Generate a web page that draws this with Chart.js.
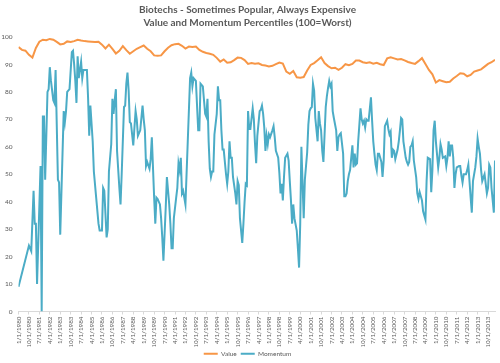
<!DOCTYPE html>
<html>
<head>
<meta charset="utf-8">
<script src="https://cdn.jsdelivr.net/npm/chart.js@4.4.1/dist/chart.umd.min.js"></script>
<style>
html, body { margin: 0; padding: 0; background: #fff; }
#wrap { width: 500px; height: 363px; }
</style>
</head>
<body>
<div id="wrap"><canvas id="chart" width="500" height="363"></canvas></div>
<script>
var titleLines = ['Biotechs - Sometimes Popular, Always Expensive', 'Value and Momentum Percentiles (100=Worst)'];

// x positions are months counted from 1/1/1980
var valueMonths = [];
for (var q = 0; q <= 411; q += 3) valueMonths.push(q);
var valueData = [96.3,95.3,95,93.5,92.5,96,98.3,99,98.8,99.3,99,98.2,97.3,97.5,98.4,98.2,98.5,99,98.7,98.5,
  98.4,98.3,98.2,98.3,97.2,95.8,97.2,95.7,94,95,96.7,95.2,93.9,94.8,95.7,96.3,96.9,95.7,94.8,93.3,
  93.2,93.3,94.8,96.1,97,97.4,97.5,96.8,95.8,96.5,96.4,96.5,95.3,94.6,94.2,93.9,93.5,92.4,91,91.8,
  90.6,90.8,91.6,92.5,92.4,91.6,90.2,90.5,90.3,90.4,89.8,89.6,89.3,89.5,90.1,90.7,90.3,87.4,86.6,87.6,
  85.3,85.2,85.4,87.8,89.8,90.5,91.5,92.6,90.5,89.4,88.6,88.8,88,88.8,90.1,89.7,90.2,91.4,91.4,90.8,
  90.5,90.8,90.3,90.6,90.1,89.8,92.2,92.6,92.2,91.8,92,91.5,90.9,90.5,90.2,91.2,92.3,90.2,88,86.4,
  83.4,84.3,83.9,83.5,83.7,84.9,85.8,86.8,86.6,85.7,86.2,87.4,87.8,88.2,89.2,90.2,90.8,91.7];

var momentumMonths = [0,9,11,13,14,15,16,19,20,21,22,23,25,26,27,28,30,31,32,34,35,36,39,40,41,42,44,46,47,48,
  49,50,51,52,54,55,56,59,60,61,62,64,65,67,69,70,72,73,74,76,77,78,80,81,82,83,84,85,87,88,
  89,91,92,93,94,95,96,97,99,100,101,102,103,105,107,108,109,110,111,113,114,115,117,118,119,120,122,123,124,125,
  127,128,130,131,132,133,134,136,137,138,139,140,141,142,144,146,148,149,150,151,153,155,156,157,159,160,161,162,163,164,
  165,166,167,168,169,171,172,173,174,175,176,177,179,180,181,182,183,184,185,187,188,189,190,191,193,194,195,196,197,198,
  199,200,202,203,204,205,206,208,209,210,211,212,213,214,215,216,217,219,220,221,222,224,225,226,227,228,229,230,232,233,
  234,235,236,237,238,240,241,242,243,244,246,247,248,249,250,251,252,253,254,255,256,258,259,260,261,262,263,265,266,267,
  268,269,270,271,272,274,275,276,277,278,280,281,282,283,284,285,286,288,289,290,291,292,293,295,296,297,298,299,300,301,
  302,304,305,306,307,308,309,310,311,313,314,315,316,318,319,320,321,322,323,324,325,327,328,329,330,331,332,334,335,336,
  337,338,339,340,341,343,344,345,346,348,349,350,351,352,353,355,356,357,358,359,360,362,363,364,365,366,368,369,370,371,
  372,373,374,375,376,377,378,380,381,382,383,384,386,387,388,389,390,391,392,394,395,396,397,398,399,400,402,403,404,405,
  406,407,408,410,411];
var momentumData = [9,24,22,44,32,32,10,53,0,71,71,48,80,81,89,84,77,76,88,48,47,28,73,69,73,80,81,94.5,95,90,
  84,76,93,85,91,85,88,88,78,64,75,62,51,41.5,32,29.5,29.5,45,44,27,30,51,61,77.5,72,77,81,58.5,45,39,
  50,74.5,75,83,87,80.5,69,68.5,60.5,67,73,70,64,66,75,70,66,53,54.5,52,55.5,63.5,41.5,32,41.5,41,39,34,27,18.5,
  38,49,39,32,23,23,34,41.5,45,54,51.5,56,43,44,39,62,85,87,82,85,84,66,66,83,82,77,72,71,77.5,62,
  52,49,51,51,64.5,72,82,77,77,66,59,59,50,46.5,51,62,56,56,49,43,39,47.5,46,34,25,32,40,46.5,46,73,
  66.5,66.5,74,70,61,54,64,73,73.5,75,72,67,58.5,64,61,64.5,63.5,66,67.5,63.5,58.5,56,50.5,43,46.5,40.5,49,56,57.5,55,
  47.5,40.5,32,39,34,29.5,23,16,32,60,34,48,53,58,68,73,74,74.5,83,80.5,70.5,62,73,68.5,66,58.5,54.5,74.5,78.5,81.5,
  84,82,83,73,70.5,66,58.5,63.5,64.5,65,57.5,42,42,43,47.5,50,51.5,60.5,52.5,57.5,53.5,54,62,74,70,68.5,69.5,67,70,69.5,
  69.5,78,69.5,62,57.5,53.5,51.5,57.5,57.5,54.5,49,55,67.5,69.5,66.5,64.5,65.5,56,59,58.5,55.5,59,62,66,70.5,70,62,56,54.5,53.5,
  54.5,60,60.5,62,55,49,43,41,43.5,40.5,36.5,35,33.5,47.5,56,55.5,43.5,51.5,66,69.5,62,52.5,56,61,59,56,56.5,53,56,62,
  56.5,60.5,60.5,56,45,50,52.5,53,53,49.5,47,50,50,51.5,53.5,47.5,41.5,36,47.5,52.5,56.5,63,60,57.5,51.5,47.5,50,46.5,43,45,
  53.5,52.5,45,36,55];

function toPoints(xs, ys) {
  return xs.map(function (m, i) { return { x: m, y: ys[i] }; });
}
function monthLabel(m) {
  return ((m % 12) + 1) + '/1/' + (1980 + Math.floor(m / 12));
}

var fontFamily = 'Lato, "Open Sans", sans-serif';
var textColor = '#595959';

new Chart(document.getElementById('chart').getContext('2d'), {
  type: 'line',
  data: {
    datasets: [
      {
        label: 'Value',
        data: toPoints(valueMonths, valueData),
        borderColor: '#F79646',
        backgroundColor: '#F79646',
        borderWidth: 2,
        pointRadius: 0,
        tension: 0
      },
      {
        label: 'Momentum',
        data: toPoints(momentumMonths, momentumData),
        borderColor: '#4BACC6',
        backgroundColor: '#4BACC6',
        borderWidth: 2,
        pointRadius: 0,
        tension: 0
      }
    ]
  },
  options: {
    responsive: false,
    animation: false,
    layout: { padding: { left: 0, right: 5, top: 0, bottom: -4 } },
    plugins: {
      title: {
        display: true,
        text: titleLines,
        color: textColor,
        font: { family: fontFamily, size: 10, weight: 'bold', lineHeight: 1.35 },
        padding: { top: 3, bottom: 7 }
      },
      legend: {
        position: 'bottom',
        labels: {
          usePointStyle: true,
          pointStyle: 'line',
          pointStyleWidth: 14,
          color: textColor,
          padding: 4,
          font: { family: fontFamily, size: 6.5 }
        }
      },
      tooltip: { enabled: false }
    },
    scales: {
      x: {
        type: 'linear',
        min: 0,
        max: 411,
        grid: { drawOnChartArea: false, drawTicks: true, tickLength: 3, color: '#d9d9d9' },
        border: { color: '#d9d9d9' },
        ticks: {
          stepSize: 9,
          includeBounds: false,
          autoSkip: false,
          minRotation: 90,
          maxRotation: 90,
          padding: 2,
          color: textColor,
          font: { family: fontFamily, size: 6.3 },
          callback: function (v) { return monthLabel(v); }
        },
        afterFit: function (scale) { scale.height = 35; }
      },
      y: {
        min: 0,
        max: 100,
        grid: { display: false, drawTicks: false },
        border: { display: false },
        ticks: {
          stepSize: 10,
          padding: 6,
          color: textColor,
          font: { family: fontFamily, size: 6.5 }
        },
        afterFit: function (scale) { scale.width = 18.5; }
      }
    }
  }
});
</script>
</body>
</html>
